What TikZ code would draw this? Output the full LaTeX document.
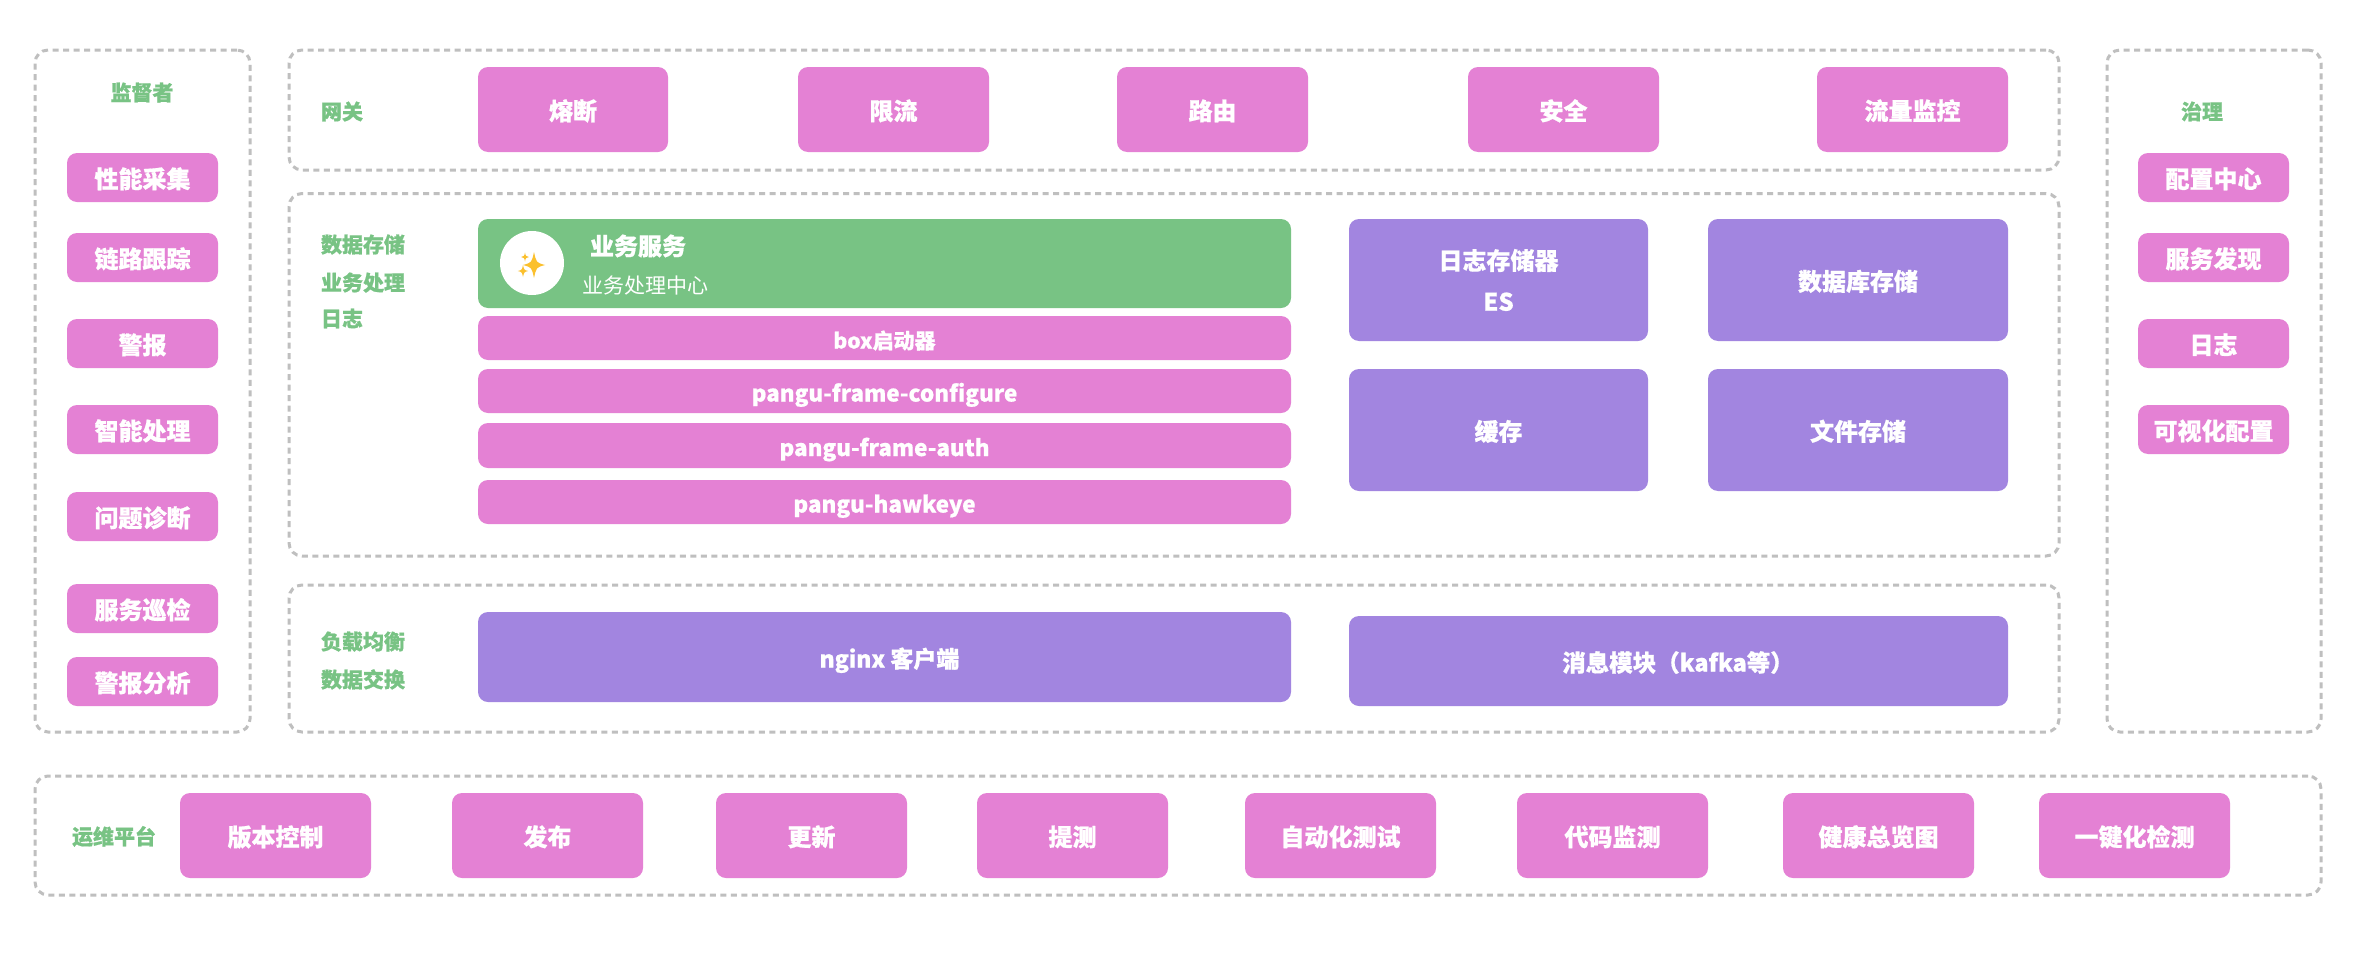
\documentclass[tikz,border=0pt]{standalone}
\usepackage{fontspec}
\setmainfont[BoldFeatures={FakeBold=0.7}]{Noto Sans CJK SC}
\definecolor{pinkbox}{HTML}{E481D4}
\definecolor{greenbox}{HTML}{78C384}
\definecolor{purplebox}{HTML}{A285E0}
\definecolor{dashgray}{HTML}{BFBFBF}
\definecolor{stargold}{HTML}{FBC02D}
\tikzset{
  box/.style={rectangle,rounded corners=10pt,inner sep=0pt,outer sep=0pt,text=white,align=center,
    font=\fontsize{24}{30}\selectfont\bfseries,text height=24pt,text depth=3pt},
  pinkb/.style={box,fill=pinkbox},
  purpleb/.style={box,fill=purplebox},
  greenb/.style={box,fill=greenbox},
  barb/.style={box,fill=pinkbox,font=\fontsize{22.5}{28}\selectfont\bfseries},
  startb/.style={box,fill=pinkbox,font=\fontsize{21}{26}\selectfont\bfseries},
  panel/.style={rectangle,rounded corners=13pt,inner sep=0pt,outer sep=0pt,draw=dashgray,line width=3pt,dash pattern=on 6pt off 4.5pt},
  lab/.style={inner sep=0pt,outer sep=0pt,text=greenbox,font=\fontsize{21}{26}\selectfont\bfseries,text height=20pt,text depth=3pt},
  bizhead/.style={inner sep=0pt,outer sep=0pt,text=white,anchor=west},
  twoline/.style={purpleb,text height=,text depth=},
}
% \bx[style]{name}{x1}{y1}{x2}{y2}{text}
\newcommand{\bx}[7][pinkb]{%
  \pgfmathsetmacro{\bxw}{#5-#3}\pgfmathsetmacro{\bxh}{#6-#4}%
  \pgfmathsetmacro{\bxcx}{(#5+#3)/2}\pgfmathsetmacro{\bxcy}{(#6+#4)/2}%
  \node[#1,minimum width=\bxw pt,minimum height=\bxh pt] (#2) at (\bxcx,\bxcy) {#7};}
\newcommand{\sparkle}[3]{%
  \fill[stargold] (#1,#2-#3) .. controls (#1+0.18*#3,#2-0.18*#3) .. (#1+#3*0.85,#2)
    .. controls (#1+0.18*#3,#2+0.18*#3) .. (#1,#2+#3)
    .. controls (#1-0.18*#3,#2+0.18*#3) .. (#1-#3*0.85,#2)
    .. controls (#1-0.18*#3,#2-0.18*#3) .. cycle;}
\begin{document}
\begin{tikzpicture}[x=1pt,y=-1pt]
\useasboundingbox[fill=white] (0,0) rectangle (2360,977);
% panels
\bx[panel]{pmon}{35}{50}{250}{732}{}
\bx[panel]{pgate}{289}{50}{2059}{170}{}
\bx[panel]{pdata}{289}{193.5}{2059}{556}{}
\bx[panel]{plb}{289}{585}{2059}{732}{}
\bx[panel]{pgov}{2107}{50}{2321}{732}{}
\bx[panel]{pops}{35}{776}{2321}{895}{}
% labels
\node[lab] (l1) at (142,92) {监督者};
\node[lab,anchor=west] (l2) at (321,111) {网关};
\node[lab,anchor=west] (l3) at (321,244) {数据存储};
\node[lab,anchor=west] (l4) at (321,282) {业务处理};
\node[lab,anchor=west] (l5) at (321,318) {日志};
\node[lab,anchor=west] (l6) at (321,641) {负载均衡};
\node[lab,anchor=west] (l7) at (321,679) {数据交换};
\node[lab] (l8) at (2202,111) {治理};
\node[lab,anchor=west] (l9) at (72,836) {运维平台};
% left column
\bx{m1}{67}{153}{218}{202}{性能采集}
\bx{m2}{67}{233}{218}{282}{链路跟踪}
\bx{m3}{67}{319}{218}{368}{警报}
\bx{m4}{67}{405}{218}{454}{智能处理}
\bx{m5}{67}{492}{218}{541}{问题诊断}
\bx{m6}{67}{584}{218}{633}{服务巡检}
\bx{m7}{67}{657}{218}{706}{警报分析}
% right column
\bx{g1}{2138}{153}{2289}{202}{配置中心}
\bx{g2}{2138}{233}{2289}{282}{服务发现}
\bx{g3}{2138}{319}{2289}{368}{日志}
\bx{g4}{2138}{405}{2289}{454}{可视化配置}
% gateway
\bx{t1}{478}{67}{668}{152}{熔断}
\bx{t2}{798}{67}{989}{152}{限流}
\bx{t3}{1117}{67}{1308}{152}{路由}
\bx{t4}{1468}{67}{1659}{152}{安全}
\bx{t5}{1817}{67}{2008}{152}{流量监控}
% business
\bx[greenb]{biz}{478}{219}{1291}{308}{}
\node[circle,fill=white,minimum size=64pt,inner sep=0pt] (bizicon) at (532,263) {};
\sparkle{534}{265}{13}
\sparkle{525}{257}{4.5}
\sparkle{523}{271}{6}
\node[bizhead,font=\fontsize{24}{30}\selectfont\bfseries] (biztitle) at (590,246) {业务服务};
\node[bizhead,font=\fontsize{21}{26}\selectfont] (bizsub) at (582,286) {业务处理中心};
\bx[startb]{b1}{478}{316}{1291}{360}{box启动器}
\bx[barb]{b2}{478}{369}{1291}{413}{pangu-frame-configure}
\bx[barb]{b3}{478}{423}{1291}{468}{pangu-frame-auth}
\bx[barb]{b4}{478}{480}{1291}{524}{pangu-hawkeye}
% storage
\bx[twoline]{s1}{1349}{219}{1648}{341}{日志存储器\\[11pt]ES}
\bx[purpleb]{s2}{1708}{219}{2008}{341}{数据库存储}
\bx[purpleb]{s3}{1349}{369}{1648}{491}{缓存}
\bx[purpleb]{s4}{1708}{369}{2008}{491}{文件存储}
% lb
\bx[purpleb]{n1}{478}{612}{1291}{702}{\hspace{10pt}\fontsize{23}{30}\selectfont nginx 客户端}
\bx[purpleb]{n2}{1349}{616}{2008}{706}{\hspace{-1pt}\fontsize{23.5}{30}\selectfont 消息模块（kafka等）}
% ops
\bx{o1}{180}{793}{371}{878}{版本控制}
\bx{o2}{452}{793}{643}{878}{发布}
\bx{o3}{716}{793}{907}{878}{更新}
\bx{o4}{977}{793}{1168}{878}{提测}
\bx{o5}{1245}{793}{1436}{878}{自动化测试}
\bx{o6}{1517}{793}{1708}{878}{代码监测}
\bx{o7}{1783}{793}{1974}{878}{健康总览图}
\bx{o8}{2039}{793}{2230}{878}{一键化检测}
\end{tikzpicture}
\end{document}
